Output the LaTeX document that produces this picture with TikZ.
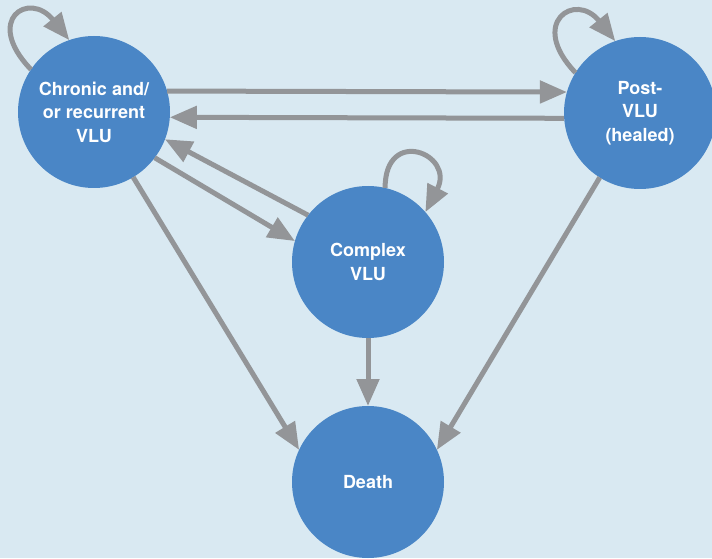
\documentclass[tikz,border=0pt]{standalone}
\usepackage{fontspec}
\setmainfont{TeX Gyre Heros}
\usetikzlibrary{arrows.meta}
\definecolor{vluBack}{HTML}{D9E9F2}
\definecolor{vluBlue}{HTML}{4A86C6}
\definecolor{vluGray}{HTML}{939598}

\begin{document}
\begin{tikzpicture}[x=1pt,y=1pt,
  state/.style={circle,fill=vluBlue,minimum size=152pt,inner sep=0pt,outer sep=0pt,
    text=white,align=center,font=\fontsize{18}{23.5}\selectfont\bfseries},
  flow/.style={draw=vluGray,line width=5pt,-{Triangle[length=27pt,width=22pt]}}]
\fill[vluBack] (0,0) rectangle (712,558);
\useasboundingbox (0,0) rectangle (712,558);
\node[state] (chronic) at (94,446){Chronic and/\\or recurrent\\VLU};
\node[state] (post) at (640,445){Post-\\VLU\\(healed)};
\node[state] (complex) at (368,296){Complex\\VLU};
\node[state] (death) at (368,76){Death};
% between chronic and healed
\draw[flow] (chronic.16) -- (post.164);
\draw[flow] (post.-176) -- (chronic.-4);
% between chronic and complex
\draw[flow] (chronic.-37) -- (complex.164);
\draw[flow] (complex.142) -- (chronic.-21);
% towards death
\draw[flow] (chronic.-59) -- (death.155);
\draw[flow] (complex.south) -- (death.north);
\draw[flow] (post.-122) -- (death.25);
% staying in the same state
\draw[flow] (chronic.146) .. controls +(-48,50) and +(-40,50) .. (chronic.109);
\draw[flow] (post.148) .. controls +(-48,50) and +(-40,50) .. (post.109);
\draw[flow] (complex.77) .. controls +(0,62) and +(30,58) .. (complex.41);
\end{tikzpicture}
\end{document}
